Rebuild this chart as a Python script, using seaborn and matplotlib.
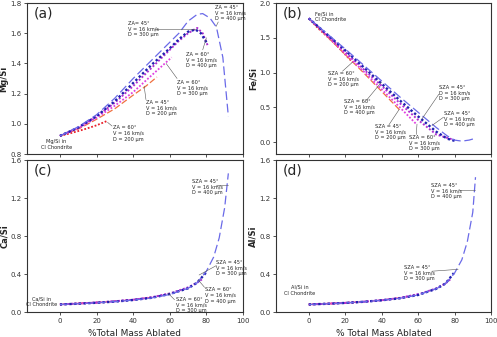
import numpy as np
import pandas as pd
import seaborn as sns
import matplotlib.pyplot as plt

# ---- data ----
# Mg/Si (panel a)
mg_60_200_x = [0, 5, 10, 15, 20, 26]
mg_60_200_y = [0.92, 0.935, 0.952, 0.97, 0.99, 1.02]
mg_45_200_x = [0, 10, 20, 30, 40, 47, 53]
mg_45_200_y = [0.92, 0.965, 1.03, 1.10, 1.19, 1.25, 1.31]
mg_60_300_x = [0, 10, 20, 30, 40, 50, 61]
mg_60_300_y = [0.92, 0.97, 1.04, 1.12, 1.21, 1.32, 1.44]
mg_60_400_x = [0, 10, 20, 30, 40, 50, 60, 65, 70, 75, 78, 81]
mg_60_400_y = [0.92, 0.975, 1.05, 1.14, 1.25, 1.37, 1.49, 1.55, 1.60, 1.635, 1.60, 1.51]
mg_45_300_x = [0, 10, 20, 30, 40, 50, 60, 65, 70, 74, 77, 80]
mg_45_300_y = [0.92, 0.975, 1.05, 1.15, 1.27, 1.39, 1.50, 1.56, 1.61, 1.625, 1.60, 1.54]
mg_45_400_x = [0, 10, 20, 30, 40, 50, 60, 65, 70, 75, 78, 82, 85.5, 89, 92]
mg_45_400_y = [0.92, 0.98, 1.06, 1.17, 1.30, 1.42, 1.54, 1.60, 1.68, 1.725, 1.73, 1.70, 1.64, 1.44, 1.05]

# Fe/Si (panel b)
fe_60_200_x = [0, 5, 10, 15, 20, 24]
fe_60_200_y = [1.78, 1.64, 1.52, 1.40, 1.26, 1.15]
fe_45_200_x = [0, 10, 20, 30, 40, 50]
fe_45_200_y = [1.78, 1.52, 1.26, 1.00, 0.73, 0.46]
fe_60_300_x = [0, 10, 20, 30, 40, 50, 59]
fe_60_300_y = [1.78, 1.53, 1.27, 1.02, 0.76, 0.50, 0.26]
fe_60_400_x = [0, 10, 20, 30, 40, 50, 60, 70, 80]
fe_60_400_y = [1.78, 1.54, 1.30, 1.05, 0.81, 0.56, 0.32, 0.11, 0.03]
fe_45_300_x = [0, 10, 20, 30, 40, 50, 60, 70, 76, 80]
fe_45_300_y = [1.78, 1.55, 1.32, 1.08, 0.84, 0.60, 0.37, 0.15, 0.05, 0.02]
fe_45_400_x = [0, 10, 20, 30, 40, 50, 60, 70, 76, 80, 84, 88, 92]
fe_45_400_y = [1.78, 1.56, 1.34, 1.11, 0.88, 0.65, 0.43, 0.21, 0.09, 0.03, 0.015, 0.03, 0.06]

# Ca/Si (panel c)
ca_60_200_x = [0, 10, 20, 25]
ca_60_200_y = [0.08, 0.09, 0.10, 0.105]
ca_45_200_x = [0, 10, 20, 30, 40, 50]
ca_45_200_y = [0.08, 0.09, 0.10, 0.113, 0.13, 0.155]
ca_60_300_x = [0, 10, 20, 30, 40, 50, 60]
ca_60_300_y = [0.08, 0.09, 0.10, 0.115, 0.13, 0.155, 0.195]
ca_60_400_x = [0, 10, 20, 30, 40, 50, 60, 70, 75, 78]
ca_60_400_y = [0.08, 0.09, 0.10, 0.113, 0.13, 0.155, 0.195, 0.26, 0.31, 0.35]
ca_45_300_x = [0, 10, 20, 30, 40, 50, 60, 70, 75, 80]
ca_45_300_y = [0.08, 0.088, 0.098, 0.11, 0.127, 0.15, 0.19, 0.25, 0.31, 0.42]
ca_45_400_x = [0, 10, 20, 30, 40, 50, 60, 70, 75, 80, 84, 87, 90, 92]
ca_45_400_y = [0.08, 0.088, 0.098, 0.11, 0.126, 0.148, 0.185, 0.25, 0.31, 0.43, 0.58, 0.78, 1.10, 1.46]

# Al/Si (panel d)
al_60_200_x = [0, 10, 20, 25]
al_60_200_y = [0.08, 0.088, 0.097, 0.102]
al_45_200_x = [0, 10, 20, 30, 40, 50]
al_45_200_y = [0.08, 0.088, 0.097, 0.11, 0.125, 0.15]
al_60_300_x = [0, 10, 20, 30, 40, 50, 60]
al_60_300_y = [0.08, 0.088, 0.097, 0.11, 0.125, 0.15, 0.19]
al_60_400_x = [0, 10, 20, 30, 40, 50, 60, 70, 75, 78]
al_60_400_y = [0.08, 0.087, 0.096, 0.108, 0.124, 0.147, 0.185, 0.25, 0.30, 0.35]
al_45_300_x = [0, 10, 20, 30, 40, 50, 60, 70, 75, 79.6]
al_45_300_y = [0.08, 0.087, 0.096, 0.108, 0.124, 0.145, 0.18, 0.245, 0.30, 0.41]
al_45_400_x = [0, 10, 20, 30, 40, 50, 60, 70, 75, 80, 84, 87, 90, 91.5]
al_45_400_y = [0.08, 0.087, 0.096, 0.108, 0.124, 0.145, 0.18, 0.245, 0.30, 0.41, 0.55, 0.74, 1.05, 1.42]

# series styles: (color, linestyle, linewidth), drawn in this order
styles = {
    "60_200": ("#e8202a", (0, (1, 1)), 1.3),
    "45_200": ("#f07040", (0, (5, 2)), 0.9),
    "60_300": ("#e040e0", (0, (1, 1)), 1.3),
    "60_400": ("#b030d0", (0, (1, 1)), 1.4),
    "45_300": ("#2020b0", (0, (1, 1)), 1.7),
    "45_400": ("#6a6ae8", (0, (7, 3)), 0.9),
}

panels = {
    "a": {"60_200": (mg_60_200_x, mg_60_200_y), "45_200": (mg_45_200_x, mg_45_200_y),
          "60_300": (mg_60_300_x, mg_60_300_y), "60_400": (mg_60_400_x, mg_60_400_y),
          "45_300": (mg_45_300_x, mg_45_300_y), "45_400": (mg_45_400_x, mg_45_400_y)},
    "b": {"60_200": (fe_60_200_x, fe_60_200_y), "45_200": (fe_45_200_x, fe_45_200_y),
          "60_300": (fe_60_300_x, fe_60_300_y), "60_400": (fe_60_400_x, fe_60_400_y),
          "45_300": (fe_45_300_x, fe_45_300_y), "45_400": (fe_45_400_x, fe_45_400_y)},
    "c": {"60_200": (ca_60_200_x, ca_60_200_y), "45_200": (ca_45_200_x, ca_45_200_y),
          "60_300": (ca_60_300_x, ca_60_300_y), "60_400": (ca_60_400_x, ca_60_400_y),
          "45_300": (ca_45_300_x, ca_45_300_y), "45_400": (ca_45_400_x, ca_45_400_y)},
    "d": {"60_200": (al_60_200_x, al_60_200_y), "45_200": (al_45_200_x, al_45_200_y),
          "60_300": (al_60_300_x, al_60_300_y), "60_400": (al_60_400_x, al_60_400_y),
          "45_300": (al_45_300_x, al_45_300_y), "45_400": (al_45_400_x, al_45_400_y)},
}

ylabels = {"a": "Mg/Si", "b": "Fe/Si", "c": "Ca/Si", "d": "Al/Si"}
ylims = {"a": (0.8, 1.8), "b": (-0.17, 2.0), "c": (0, 1.6), "d": (0, 1.6)}
yticks = {"a": [0.8, 1.0, 1.2, 1.4, 1.6, 1.8], "b": [0.0, 0.5, 1.0, 1.5, 2.0],
          "c": [0.0, 0.4, 0.8, 1.2, 1.6], "d": [0.0, 0.4, 0.8, 1.2, 1.6]}
xticks = [0, 20, 40, 60, 80, 100]

sns.set_style("ticks")
plt.rcParams['font.family'] = ['DejaVu Sans']

fig = plt.figure(figsize=(4.97, 3.37), dpi=100)
rects = {"a": [0.0543, 0.543, 0.4346, 0.448], "b": [0.5553, 0.543, 0.4326, 0.448],
         "c": [0.0543, 0.074, 0.4346, 0.451], "d": [0.5553, 0.074, 0.4326, 0.451]}
axes = {}
for key in "abcd":
    ax = fig.add_axes(rects[key])
    axes[key] = ax
    for name, (xs, ys) in panels[key].items():
        col, ls, lw = styles[name]
        sns.lineplot(x=xs, y=ys, ax=ax, color=col, linestyle=ls, lw=lw, sort=False)
    ax.set_xlim(-18, 100)
    ax.set_ylim(*ylims[key])
    ax.set_xticks(xticks)
    ax.set_yticks(yticks[key])
    ax.set_yticklabels([f"{v:.1f}" for v in yticks[key]])
    ax.tick_params(labelsize=5, length=2.5, width=0.6, direction="out", pad=1.5, colors="#333333")
    for s in ax.spines.values():
        s.set_color("#333333")
        s.set_linewidth(0.8)
    ax.set_ylabel(ylabels[key], fontsize=6, fontweight="bold")
    ax.yaxis.set_label_coords(-0.085, 0.5)
    ax.text(0.03, 0.975, f"({key})", transform=ax.transAxes, fontsize=10, va="top", ha="left")
    if key in "ab":
        ax.set_xticklabels([])
        ax.set_xlabel("")

axes["c"].set_xlabel("%Total Mass Ablated", fontsize=6.5, labelpad=4)
axes["d"].set_xlabel("% Total Mass Ablated", fontsize=6.5, labelpad=4)


def note(ax, txt, pos, p1, p2, ha="left", va="top"):
    ax.text(pos[0], pos[1], txt, fontsize=3.6, ha=ha, va=va, linespacing=1.15, color="#222222")
    if p1 is not None:
        ax.plot([p1[0], p2[0]], [p1[1], p2[1]], color="#555555", lw=0.4)


# panel a notes
a = axes["a"]
note(a, "ZA = 45°\nV = 16 km/s\nD = 400 µm", (84.5, 1.79), (86.5, 1.675), (85.3, 1.645))
note(a, "ZA= 45°\nV = 16 km/s\nD = 300 µm", (37, 1.68), (52, 1.63), (74.5, 1.63))
note(a, "ZA = 60°\nV = 16 km/s\nD = 400 µm", (69, 1.475), (78, 1.49), (80, 1.57))
note(a, "ZA = 60°\nV = 16 km/s\nD = 300 µm", (64, 1.29), (64, 1.30), (58, 1.40))
note(a, "ZA = 45°\nV = 16 km/s\nD = 200 µm", (47, 1.157), (47, 1.16), (46, 1.25))
note(a, "ZA = 60°\nV = 16 km/s\nD = 200 µm", (29, 0.99), (28.5, 0.985), (26, 1.01))
note(a, "Mg/Si in\nCI Chondrite", (-2, 0.90), None, None, ha="center")

# panel b notes
b = axes["b"]
note(b, "Fe/Si in\nCI Chondrite", (3.3, 1.885), None, None)
note(b, "SZA = 60°\nV = 16 km/s\nD = 200 µm", (10.4, 1.02), (18.5, 1.02), (24, 1.15))
note(b, "SZA = 60°\nV = 16 km/s\nD = 400 µm", (19.6, 0.62), (31.6, 0.60), (39.8, 0.86))
note(b, "SZA = 45°\nV = 16 km/s\nD = 200 µm", (36.5, 0.26), (44, 0.25), (49.6, 0.47))
note(b, "SZA = 60°\nV = 16 km/s\nD = 300 µm", (55, 0.10), (59, 0.11), (59.4, 0.26))
note(b, "SZA = 45°\nD = 16 km/s\nD = 300 µm", (71.4, 0.82), (71.4, 0.69), (62, 0.33))
note(b, "SZA = 45°\nV = 16 km/s\nD = 400 µm", (74, 0.45), (74, 0.36), (67.6, 0.24))

# panel c notes
c = axes["c"]
note(c, "SZA = 45°\nV = 16 km/s\nD = 400 µm", (72, 1.40), (85.5, 1.34), (91.6, 1.34))
note(c, "SZA = 45°\nV = 16 km/s\nD = 300 µm", (85.5, 0.55), (85.5, 0.49), (76, 0.39))
note(c, "SZA = 60°\nV = 16 km/s\nD = 400 µm", (79.5, 0.26), (79, 0.26), (75.5, 0.34))
note(c, "SZA = 60°\nV = 16 km/s\nD = 300 µm", (63.6, 0.16), (62.6, 0.13), (59, 0.20))
note(c, "Ca/Si in\nCI Chondrite", (-10, 0.105), None, None, ha="center", va="center")

# panel d notes
d = axes["d"]
note(d, "SZA = 45°\nV = 16 km/s\nD = 400 µm", (67, 1.36), (82.3, 1.29), (91, 1.29))
note(d, "SZA = 45°\nV = 16 km/s\nD = 300 µm", (52.3, 0.50), (67.6, 0.43), (82, 0.45))
note(d, "Al/Si in\nCI Chondrite", (-5, 0.23), None, None, ha="center", va="center")

fig.savefig("out.png", dpi=100)
